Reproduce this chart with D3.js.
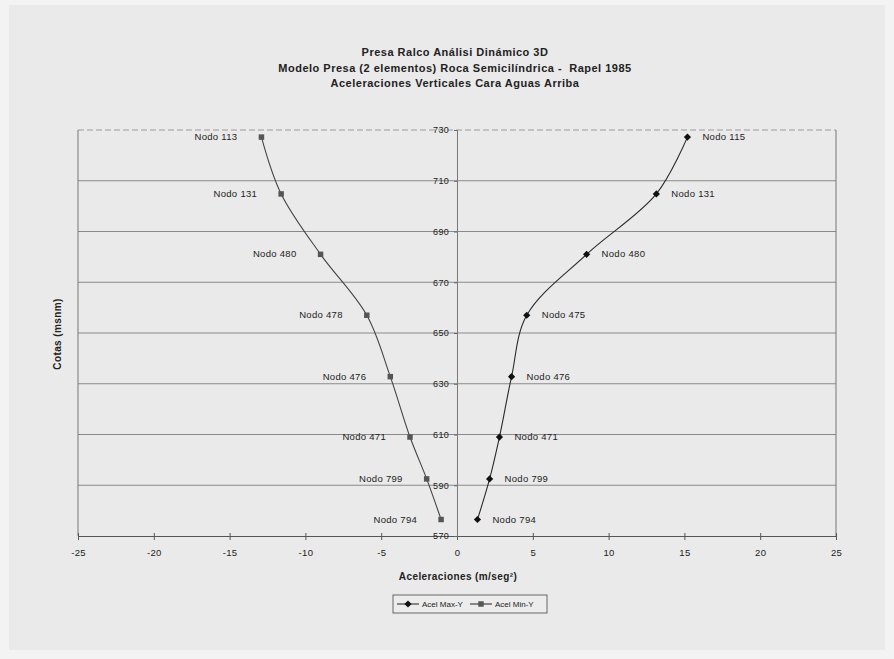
<!DOCTYPE html>
<html>
<head>
<meta charset="utf-8">
<script src="https://cdn.jsdelivr.net/npm/d3@7"></script>
<style>
  html, body { margin: 0; padding: 0; background: #f3f3f3; }
  svg { display: block; }
  text { font-family: "Liberation Sans", Arial, sans-serif; fill: #222; }
</style>
</head>
<body>
<svg id="chart" width="894" height="659"></svg>
<script>
// ---- data ----
const cotas = [727.2, 704.8, 681.0, 657.0, 632.8, 609.0, 592.5, 576.5];
const acelMaxY = [15.2, 13.15, 8.55, 4.6, 3.6, 2.8, 2.15, 1.35];
const acelMinY = [-12.9, -11.6, -9.0, -5.95, -4.4, -3.1, -2.0, -1.05];
const labelsMax = ["Nodo 115", "Nodo 131", "Nodo 480", "Nodo 475", "Nodo 476", "Nodo 471", "Nodo 799", "Nodo 794"];
const labelsMin = ["Nodo 113", "Nodo 131", "Nodo 480", "Nodo 478", "Nodo 476", "Nodo 471", "Nodo 799", "Nodo 794"];
const xTicks = [-25, -20, -15, -10, -5, 0, 5, 10, 15, 20, 25];
const yTicks = [570, 590, 610, 630, 650, 670, 690, 710, 730];
const titleLines = [
  "Presa Ralco Análisi Dinámico 3D",
  "Modelo Presa (2 elementos) Roca Semicilíndrica -  Rapel 1985",
  "Aceleraciones Verticales Cara Aguas Arriba"
];
const seriesNames = ["Acel Max-Y", "Acel Min-Y"];

// ---- layout ----
const svg = d3.select("#chart");
const plot = { left: 78, right: 836, top: 130, bottom: 536 };

svg.append("rect").attr("x", 9).attr("y", 5).attr("width", 876).attr("height", 645)
  .attr("fill", "#eaeaea");

const x = d3.scaleLinear().domain([-25, 25]).range([plot.left, plot.right]);
const y = d3.scaleLinear().domain([570, 730]).range([plot.bottom, plot.top]);

// gridlines
svg.append("g").selectAll("line").data(yTicks.filter(v => v > 570 && v < 730)).join("line")
  .attr("x1", plot.left).attr("x2", plot.right)
  .attr("y1", d => y(d)).attr("y2", d => y(d))
  .attr("stroke", "#8a8a8a").attr("stroke-width", 1);

// plot border
svg.append("line").attr("x1", plot.left).attr("x2", plot.right).attr("y1", plot.top).attr("y2", plot.top)
  .attr("stroke", "#9a9a9a").attr("stroke-dasharray", "6,3");
svg.append("line").attr("x1", plot.left).attr("x2", plot.left).attr("y1", plot.top).attr("y2", plot.bottom)
  .attr("stroke", "#777");
svg.append("line").attr("x1", plot.right).attr("x2", plot.right).attr("y1", plot.top).attr("y2", plot.bottom)
  .attr("stroke", "#777");

// x axis at bottom
const xAxis = svg.append("g").attr("transform", `translate(0,${plot.bottom})`)
  .call(d3.axisBottom(x).tickValues(xTicks).tickFormat(d => String(d)).tickSize(4).tickPadding(9));
xAxis.select(".domain").attr("stroke", "#555");
xAxis.selectAll(".tick line").attr("stroke", "#555").attr("y1", -3);
xAxis.selectAll(".tick text").style("font-size", "9.5px").style("letter-spacing", "0.3px").attr("fill", "#333");

// y axis at x = 0
const yAxis = svg.append("g").attr("transform", `translate(${x(0)},0)`)
  .call(d3.axisLeft(y).tickValues(yTicks).tickFormat(d => String(d)).tickSize(3).tickPadding(5));
yAxis.select(".domain").attr("stroke", "#777");
yAxis.selectAll(".tick line").attr("stroke", "#666");
yAxis.selectAll(".tick text").style("font-size", "9px").style("letter-spacing", "0.3px").attr("fill", "#333");

// titles
svg.append("g").selectAll("text").data(titleLines).join("text")
  .attr("x", 455).attr("y", (d, i) => 56 + i * 15.5)
  .attr("text-anchor", "middle")
  .style("font-size", "11px").style("font-weight", "bold").style("letter-spacing", "0.5px")
  .style("white-space", "pre")
  .text(d => d);

svg.append("text").attr("x", 458).attr("y", 580).attr("text-anchor", "middle")
  .style("font-size", "10px").style("font-weight", "bold").style("letter-spacing", "0.4px")
  .text("Aceleraciones (m/seg²)");

svg.append("text").attr("transform", "translate(61,334) rotate(-90)").attr("text-anchor", "middle")
  .style("font-size", "10px").style("font-weight", "bold").style("letter-spacing", "0.4px")
  .text("Cotas (msnm)");

// series
const line = d3.line().curve(d3.curveCatmullRom.alpha(0.5));
const maxPts = acelMaxY.map((v, i) => [x(v), y(cotas[i])]);
const minPts = acelMinY.map((v, i) => [x(v), y(cotas[i])]);

svg.append("path").attr("d", line(maxPts)).attr("fill", "none").attr("stroke", "#2a2a2a").attr("stroke-width", 1.1);
svg.append("path").attr("d", line(minPts)).attr("fill", "none").attr("stroke", "#444").attr("stroke-width", 1.1);

const diamond = d3.symbol().type(d3.symbolSquare).size(26);
const square = d3.symbol().type(d3.symbolSquare).size(30);

svg.append("g").selectAll("path").data(maxPts).join("path")
  .attr("d", diamond).attr("transform", d => `translate(${d[0]},${d[1]}) rotate(45)`).attr("fill", "#111");
svg.append("g").selectAll("path").data(minPts).join("path")
  .attr("d", square).attr("transform", d => `translate(${d[0]},${d[1]})`).attr("fill", "#555");

svg.append("g").selectAll("text").data(maxPts).join("text")
  .attr("x", d => d[0] + 15).attr("y", d => d[1] + 3)
  .style("font-size", "9.5px").style("letter-spacing", "0.3px").attr("fill", "#333")
  .text((d, i) => labelsMax[i]);
svg.append("g").selectAll("text").data(minPts).join("text")
  .attr("x", d => d[0] - 24).attr("y", d => d[1] + 3).attr("text-anchor", "end")
  .style("font-size", "9.5px").style("letter-spacing", "0.3px").attr("fill", "#333")
  .text((d, i) => labelsMin[i]);

// legend
const lg = svg.append("g");
lg.append("rect").attr("x", 393).attr("y", 595).attr("width", 154).attr("height", 18)
  .attr("fill", "#ececec").attr("stroke", "#666");
const items = [
  { sym: diamond, rot: 45, color: "#111", lx: 397, tx: 422 },
  { sym: square, rot: 0, color: "#555", lx: 470, tx: 495 }
];
items.forEach((it, i) => {
  lg.append("line").attr("x1", it.lx).attr("x2", it.lx + 22).attr("y1", 604).attr("y2", 604)
    .attr("stroke", "#333").attr("stroke-width", 1.1);
  lg.append("path").attr("d", it.sym).attr("transform", `translate(${it.lx + 11},604) rotate(${it.rot})`).attr("fill", it.color);
  lg.append("text").attr("x", it.tx).attr("y", 607).style("font-size", "8px").attr("fill", "#333")
    .text(seriesNames[i]);
});
</script>
</body>
</html>
